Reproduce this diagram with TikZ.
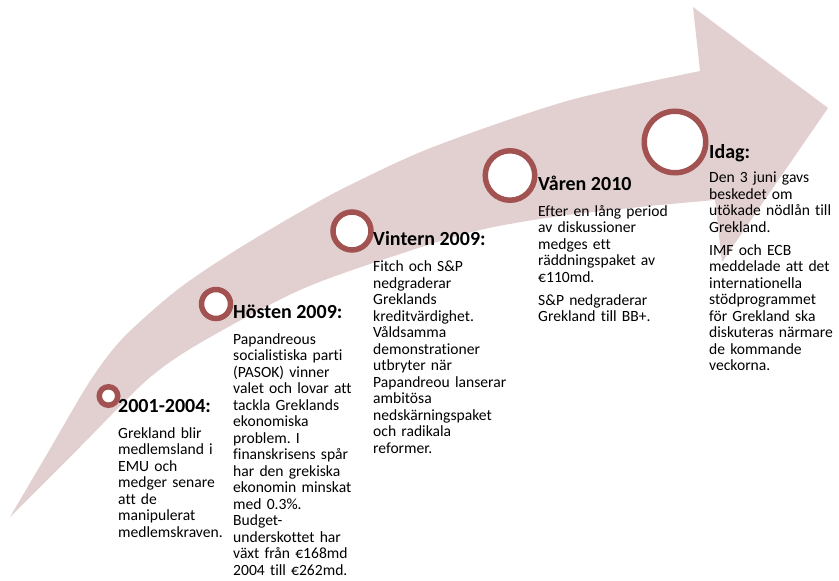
\documentclass[tikz,border=0pt]{standalone}
\usepackage{fontspec}
\setmainfont{Carlito}[Ligatures=NoCommon]
\usepackage{tikz}

\definecolor{bandpink}{RGB}{226,208,209}
\definecolor{ringred}{RGB}{162,82,80}

\frenchspacing

\begin{document}
\begin{tikzpicture}[
    x=1pt, y=-1pt,
    ring/.style={
        circle,
        draw=ringred,
        line width=5.5pt,
        fill=white,
        inner sep=0pt
    },
    heading/.style={
        anchor=base west,
        inner sep=0pt,
        font=\fontsize{20}{22}\selectfont\bfseries
    },
    body/.style={
        anchor=base west,
        inner sep=0pt,
        text width=150pt,
        align=left,
        font=\fontsize{15.6}{16.5}\selectfont
    }
]
\useasboundingbox (0,0) rectangle (839,581);

% Curved arrow
\fill[bandpink] (10,517)
    -- plot[smooth] coordinates {(10,517) (50,449) (90,381) (123,338) (177,290)
        (233,252) (300,212) (350,185) (433,147) (567,101) (700,71)}
    -- (693,7) -- (828,108) -- (722,262) -- (715,200)
    -- plot[smooth] coordinates {(715,200) (650,206) (560,216) (480,230)
        (400,254) (300,290) (200,343) (147,380) (80,447) (10,517)}
    -- cycle;

% Event 1
\node[ring, minimum size=18.5pt] (ring1) at (108.5,396) {};
\node[heading] (head1) at (118,412) {2001-2004:};
\node[body] (text1) at (118,438) {Grekland blir\\ medlemsland i\\ EMU och\\
    medger senare\\ att de\\ manipulerat\\ medlemskraven.};

% Event 2
\node[ring, minimum size=29pt] (ring2) at (216,304) {};
\node[heading] (head2) at (233,318) {Hösten 2009:};
\node[body] (text2) at (233,344) {Papandreous\\ socialistiska parti\\
    (PASOK) vinner\\ valet och lovar att\\ tackla Greklands\\ ekonomiska\\
    problem. I\\ finanskrisens spår\\ har den grekiska\\ ekonomin minskat\\
    med 0.3\%.\\ Budget-\\ underskottet har\\ växt från €168md\\
    2004 till €262md.};

% Event 3
\node[ring, minimum size=38pt] (ring3) at (352,231) {};
\node[heading] (head3) at (373,245) {Vintern 2009:};
\node[body] (text3) at (373,271.5) {Fitch och S\&P\\ nedgraderar\\ Greklands\\
    kreditvärdighet.\\ Våldsamma\\ demonstrationer\\ utbryter när\\
    Papandreou lanserar\\ ambitösa\\ nedskärningspaket\\ och radikala\\ reformer.};

% Event 4
\node[ring, minimum size=49.5pt] (ring4) at (510,175.5) {};
\node[heading] (head4) at (538,190) {Våren 2010};
\node[body] (text4) at (538,216) {Efter en lång period\\ av diskussioner\\
    medges ett\\ räddningspaket av\\ €110md.\\[6.5pt]
    S\&P nedgraderar\\ Grekland till BB+.};

% Event 5
\node[ring, minimum size=61.5pt] (ring5) at (675,142) {};
\node[heading] (head5) at (709,158) {Idag:};
\node[body] (text5) at (709,182.5) {Den 3 juni gavs\\ beskedet om\\
    utökade nödlån till\\ Grekland.\\[6.5pt] IMF och ECB\\ meddelade att det\\
    internationella\\ stödprogrammet\\ för Grekland ska\\ diskuteras närmare\\
    de kommande\\ veckorna.};

\end{tikzpicture}
\end{document}
